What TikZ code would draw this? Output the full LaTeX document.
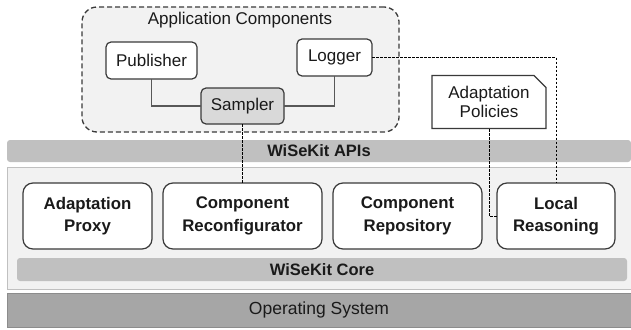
\documentclass[tikz,border=0pt]{standalone}
\usepackage{fontspec}
\setmainfont{Liberation Sans}
\usetikzlibrary{shapes.misc}
\definecolor{boxline}{HTML}{3A3A3A}
\definecolor{lightfill}{HTML}{F2F2F2}
\definecolor{barfill}{HTML}{C0C0C0}
\definecolor{osfill}{HTML}{A6A6A6}
\definecolor{osline}{HTML}{8C8C8C}
\definecolor{sampfill}{HTML}{D9D9D9}
\definecolor{txt}{HTML}{1A1A1A}
\tikzset{
  comp/.style={draw=boxline, line width=1.2pt, rounded corners=5pt, fill=white, inner sep=0pt, outer sep=0pt, text=txt, align=center},
  appcomp/.style={comp, font=\fontsize{17}{20}\selectfont},
  corecomp/.style={comp, rounded corners=10pt, font=\fontsize{16.8}{22.5}\selectfont\bfseries},
  bar/.style={fill=barfill, draw=none, rounded corners=3pt, inner sep=0pt, outer sep=0pt, text=txt, font=\fontsize{16.5}{20}\selectfont\bfseries},
  solidlink/.style={draw=boxline!85, line width=1.4pt},
  dashlink/.style={draw=black, line width=0.8pt, dash pattern=on 2.5pt off 1.5pt},
}
\begin{document}
\begin{tikzpicture}[x=1pt,y=-1pt]
\useasboundingbox (0,0) rectangle (631,329);
% application container
\node (app) [draw=boxline, fill=lightfill, line width=1.3pt, dash pattern=on 5pt off 3pt, rounded corners=15pt, minimum width=317pt, minimum height=125pt, inner sep=0pt] at (240.5,69.5) {};
\node (apptitle) [text=txt, font=\fontsize{17}{20}\selectfont] at (240,20) {Application Components};
\node (pub) [appcomp, minimum width=91pt, minimum height=37pt] at (151.5,60.5) {Publisher};
\node (log) [appcomp, minimum width=75pt, minimum height=37pt] at (334.5,57.5) {Logger};
\node (samp) [appcomp, fill=sampfill, minimum width=83pt, minimum height=36pt] at (242.5,106) {Sampler};
% adaptation policies
\node (pol) [draw=boxline, line width=1.2pt, fill=white, chamfered rectangle, chamfered rectangle corners=north east, chamfered rectangle xsep=6pt, chamfered rectangle ysep=6pt, minimum width=114pt, minimum height=53pt, inner sep=0pt, align=center, text=txt, font=\fontsize{17}{19}\selectfont] at (489,102) {Adaptation\\Policies};
% APIs bar
\node (apis) [bar, minimum width=624pt, minimum height=22pt] at (319,151) {WiSeKit APIs};
% core box
\node (core) [draw=barfill, fill=lightfill, line width=0.8pt, minimum width=624pt, minimum height=122pt, inner sep=0pt] at (319,228) {};
\node (proxy) [corecomp, minimum width=129pt, minimum height=66pt] at (87.5,216) {Adaptation\\Proxy};
\node (reconf) [corecomp, minimum width=159pt, minimum height=66pt] at (242.5,216) {Component\\Reconfigurator};
\node (repo) [corecomp, minimum width=149pt, minimum height=66pt] at (407.5,216) {Component\\Repository};
\node (local) [corecomp, minimum width=118pt, minimum height=66pt] at (556,216) {Local\\Reasoning};
\node (corebar) [bar, minimum width=610pt, minimum height=23pt] at (322,269.5) {WiSeKit Core};
% OS
\node (os) [fill=osfill, draw=osline, line width=0.8pt, minimum width=624pt, minimum height=34pt, inner sep=0pt, text=txt, font=\fontsize{17.5}{20}\selectfont] at (319,310) {Operating System};
% connectors
\draw[solidlink] (pub.south) |- (samp.west);
\draw[solidlink] (log.south) |- (samp.east);
\draw[dashlink] (samp.south) -- (reconf.north);
\draw[dashlink] (log.east) -| (local.north);
\draw[dashlink] (pol.south) |- (local.west);
\end{tikzpicture}
\end{document}
